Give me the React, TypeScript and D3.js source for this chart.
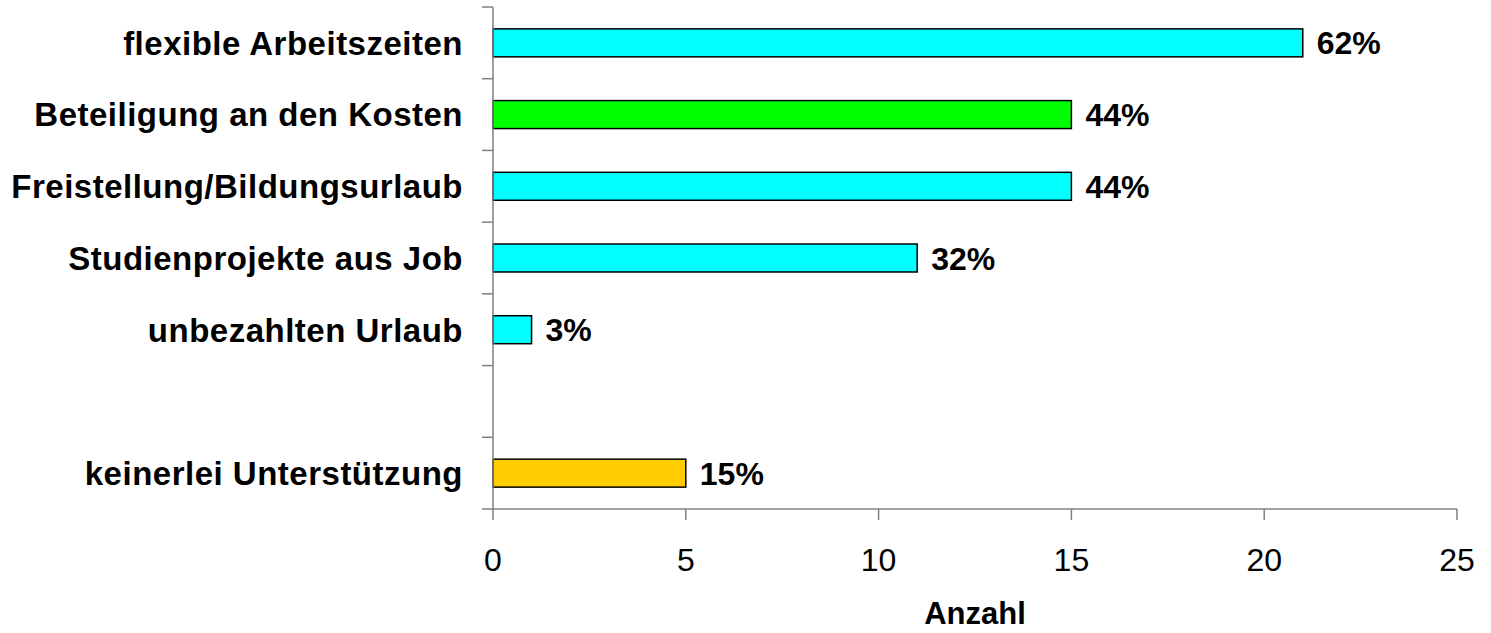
import React from "react";
import * as d3 from "d3";

const categories = [
  "flexible Arbeitszeiten",
  "Beteiligung an den Kosten",
  "Freistellung/Bildungsurlaub",
  "Studienprojekte aus Job",
  "unbezahlten Urlaub",
  "",
  "keinerlei Unterstützung",
];
const values: (number | null)[] = [21, 15, 15, 11, 1, null, 5];
const pctLabels = ["62%", "44%", "44%", "32%", "3%", "", "15%"];
const barColors = ["#00FFFF", "#00FF00", "#00FFFF", "#00FFFF", "#00FFFF", "#00FFFF", "#FFCC00"];
const xTicks = [0, 5, 10, 15, 20, 25];
const xTitle = "Anzahl";

const W = 1491;
const H = 633;
const left = 493;
const right = 1457;
const top = 7;
const bottom = 509;
const FONT = "Liberation Sans, Arial, Helvetica, sans-serif";
const AXIS = "#808080";

export default function App() {
  const x = d3.scaleLinear().domain([0, 25]).range([left, right]);
  const y = d3
    .scaleBand<string>()
    .domain(categories.map((_, i) => String(i)))
    .range([top, bottom])
    .paddingInner(0.61)
    .paddingOuter(0.305);
  const step = y.step();
  const yTickPos = d3.range(categories.length + 1).map((i) => top + i * step);

  return (
    <svg
      width={W}
      height={H}
      style={{ position: "absolute", left: 0, top: 0, background: "#fff" }}
    >
      {/* bars */}
      {categories.map((c, i) => {
        const v = values[i];
        if (v == null) return null;
        const yy = y(String(i))!;
        return (
          <g key={"b" + i}>
            <rect
              x={x(0)}
              y={yy}
              width={x(v) - x(0)}
              height={y.bandwidth()}
              fill={barColors[i]}
              stroke="#000"
              strokeWidth={1.5}
            />
            <text
              x={x(v) + 14}
              y={yy + y.bandwidth() / 2}
              dy="0.36em"
              fontFamily={FONT}
              fontWeight="bold"
              fontSize={32}
              fill="#000"
            >
              {pctLabels[i]}
            </text>
          </g>
        );
      })}
      {/* y axis */}
      <line x1={left} x2={left} y1={top} y2={bottom} stroke={AXIS} strokeWidth={1.5} />
      {yTickPos.map((p, i) => (
        <line key={"yt" + i} x1={left - 11} x2={left} y1={p} y2={p} stroke={AXIS} strokeWidth={1.5} />
      ))}
      {categories.map((c, i) => (
        <text
          key={"yl" + i}
          x={463}
          y={y(String(i))! + y.bandwidth() / 2}
          dy="0.36em"
          textAnchor="end"
          fontFamily={FONT}
          fontWeight="bold"
          fontSize={33}
          letterSpacing={0.5}
          fill="#000"
        >
          {c}
        </text>
      ))}
      {/* x axis */}
      <line x1={left} x2={right} y1={bottom} y2={bottom} stroke={AXIS} strokeWidth={1.5} />
      {xTicks.map((t) => (
        <g key={"xt" + t}>
          <line x1={x(t)} x2={x(t)} y1={bottom} y2={bottom + 11} stroke={AXIS} strokeWidth={1.5} />
          <text
            x={x(t)}
            y={571}
            textAnchor="middle"
            fontFamily={FONT}
            fontSize={32}
            fill="#000"
          >
            {t}
          </text>
        </g>
      ))}
      <text
        x={(left + right) / 2}
        y={624}
        textAnchor="middle"
        fontFamily={FONT}
        fontWeight="bold"
        fontSize={31}
        fill="#000"
      >
        {xTitle}
      </text>
    </svg>
  );
}
